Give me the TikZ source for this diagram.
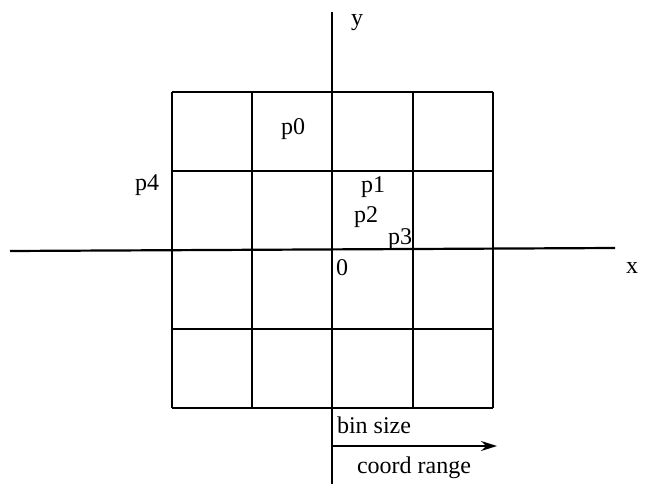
\documentclass[tikz,border=0pt]{standalone}
\usepackage{fontspec}
\setmainfont{Liberation Serif}
\usetikzlibrary{arrows.meta}
\begin{document}
\begin{tikzpicture}[x=1pt,y=-1pt,
  gridline/.style={line width=2pt},
  axisline/.style={line width=2.2pt},
  lbl/.style={font=\fontsize{24}{26}\selectfont, inner sep=0pt}]
\useasboundingbox (0,0) rectangle (646,484);
% grid
\foreach \x in {172,252,413,493} \draw[gridline] (\x,92) -- (\x,408);
\foreach \y in {92,171,329,408} \draw[gridline] (172,\y) -- (493,\y);
% axes
\coordinate (xl) at (10,251);
\coordinate (xr) at (615,248);
\coordinate (yt) at (332,12);
\coordinate (yb) at (332,484);
\draw[axisline] (xl) -- (xr);
\draw[axisline] (yt) -- (yb);
% labels
\node[lbl] (ylab) at (357,23) {y};
\node[lbl] (xlab) at (632,268) {x};
\node[lbl] (p0) at (293,129) {p0};
\node[lbl] (p4) at (147,185) {p4};
\node[lbl] (p1) at (373,187) {p1};
\node[lbl] (p2) at (366,217) {p2};
\node[lbl] (p3) at (400,239) {p3};
\node[lbl] (zero) at (342,268) {0};
\node[lbl] (bin) at (374,425) {bin size};
\node[lbl] (coord) at (414,468) {coord range};
% arrow
\coordinate (as) at (333,446);
\coordinate (ae) at (497,446);
\draw[line width=1.8pt,-{Stealth[length=16pt,width=10pt]}] (as) -- (ae);
\end{tikzpicture}
\end{document}
